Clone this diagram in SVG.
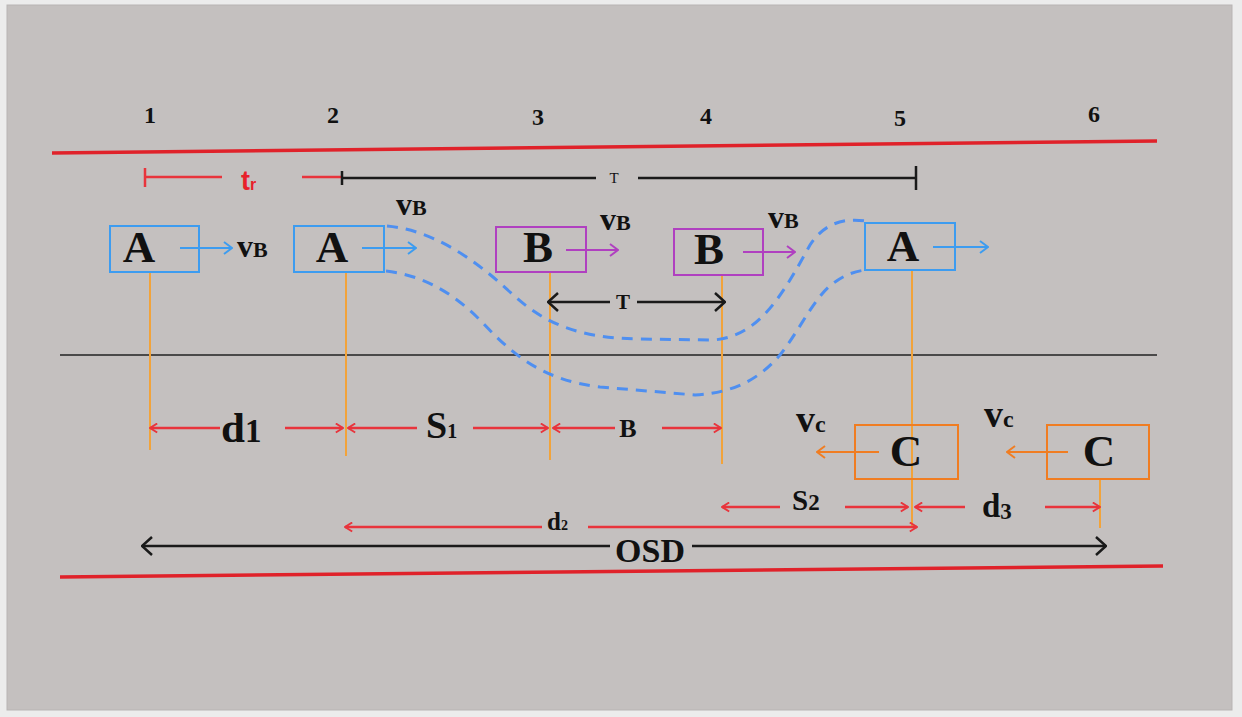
<svg xmlns="http://www.w3.org/2000/svg" width="1242" height="717" viewBox="0 0 1242 717">
  <style>
    .num { font-family: "Liberation Serif", serif; font-weight: bold; font-size: 24px; fill: #111; text-anchor: middle; }
    .veh { font-family: "Liberation Serif", serif; font-weight: bold; font-size: 45px; fill: #111; text-anchor: middle; }
    .lbl { font-family: "Liberation Serif", serif; font-weight: bold; fill: #111; }
    .boxA { fill: none; stroke: #3d9cf0; stroke-width: 2; }
    .boxB { fill: none; stroke: #b040c0; stroke-width: 2; }
    .boxC { fill: none; stroke: #f07d22; stroke-width: 2; }
    .arrA { stroke: #3d9cf0; stroke-width: 2; fill: none; marker-end: url(#hBlue); }
    .arrB { stroke: #b040c0; stroke-width: 2; fill: none; marker-end: url(#hPurple); }
    .arrC { stroke: #f07d22; stroke-width: 2; fill: none; marker-end: url(#hOrange); }
    .road { stroke: #e0222a; stroke-width: 3.5; fill: none; }
    .mid { stroke: #222; stroke-width: 1.5; }
    .guide { stroke: #f2a33a; stroke-width: 2; }
    .dim { stroke: #e8343c; stroke-width: 2.5; fill: none; }
    .blk { stroke: #1a1a1a; stroke-width: 2.5; fill: none; }
    .path { stroke: #4f8ff0; stroke-width: 3; fill: none; stroke-dasharray: 11 8; }
  </style>
  <defs>
    <marker id="hBlue" viewBox="0 0 10 14" refX="9" refY="7" markerWidth="10" markerHeight="14" markerUnits="userSpaceOnUse" orient="auto">
      <path d="M1,1 L9,7 L1,13" fill="none" stroke="#3d9cf0" stroke-width="2"/>
    </marker>
    <marker id="hPurple" viewBox="0 0 10 14" refX="9" refY="7" markerWidth="10" markerHeight="14" markerUnits="userSpaceOnUse" orient="auto">
      <path d="M1,1 L9,7 L1,13" fill="none" stroke="#b040c0" stroke-width="2"/>
    </marker>
    <marker id="hOrange" viewBox="0 0 10 14" refX="9" refY="7" markerWidth="10" markerHeight="14" markerUnits="userSpaceOnUse" orient="auto">
      <path d="M1,1 L9,7 L1,13" fill="none" stroke="#f07d22" stroke-width="2"/>
    </marker>
    <marker id="hRed" viewBox="0 0 10 12" refX="9" refY="6" markerWidth="9" markerHeight="11" markerUnits="userSpaceOnUse" orient="auto-start-reverse">
      <path d="M1,1 L9,6 L1,11" fill="none" stroke="#e8343c" stroke-width="2.2"/>
    </marker>
    <marker id="hBlack" viewBox="0 0 12 20" refX="11" refY="10" markerWidth="12" markerHeight="20" markerUnits="userSpaceOnUse" orient="auto-start-reverse">
      <path d="M1,1 L11,10 L1,19" fill="none" stroke="#1a1a1a" stroke-width="2.5"/>
    </marker>
  </defs>

  <!-- page and road surface -->
  <rect x="0" y="0" width="1242" height="717" fill="#ececec"/>
  <rect x="7" y="5" width="1225" height="705" fill="#c4c0bf" stroke="#b8b4b3" stroke-width="1"/>

  <!-- station numbers -->
  <g id="stations">
    <text class="num" x="150" y="123">1</text>
    <text class="num" x="333" y="123">2</text>
    <text class="num" x="538" y="125">3</text>
    <text class="num" x="706" y="124">4</text>
    <text class="num" x="900" y="126">5</text>
    <text class="num" x="1094" y="122">6</text>
  </g>

  <!-- road edges and centre line -->
  <g id="road">
    <line class="road" x1="52" y1="153" x2="1157" y2="141"/>
    <line class="road" x1="60" y1="577" x2="1163" y2="566"/>
    <line class="mid" x1="60" y1="355" x2="1157" y2="355"/>
  </g>

  <!-- vertical position guides -->
  <g id="guides">
    <line class="guide" x1="150" y1="273" x2="150" y2="450"/>
    <line class="guide" x1="346" y1="273" x2="346" y2="456"/>
    <line class="guide" x1="550" y1="272" x2="550" y2="460"/>
    <line class="guide" x1="722" y1="275" x2="722" y2="464"/>
    <line class="guide" x1="912" y1="270" x2="912" y2="528"/>
    <line class="guide" x1="1100" y1="480" x2="1100" y2="528"/>
  </g>

  <!-- overtaking paths -->
  <g id="connectors">
    <path class="path" d="M387,226 C430,230 470,255 510,292 C545,325 580,338 640,339 L712,340 C760,338 785,290 810,245 C825,222 845,218 866,221"/>
    <path class="path" d="M386,271 C420,275 450,290 480,320 C510,352 540,380 600,387 L695,395 C735,393 760,378 780,355 C800,330 815,295 835,282 C845,275 855,271 866,270"/>

    <!-- time spans -->
    <line class="dim" x1="145" y1="177" x2="222" y2="177"/>
    <line class="dim" x1="145" y1="168" x2="145" y2="187"/>
    <line class="dim" x1="302" y1="177" x2="342" y2="177"/>
    <line class="blk" x1="342" y1="178" x2="596" y2="178"/>
    <line class="blk" x1="638" y1="178" x2="916" y2="178"/>
    <line class="blk" x1="342" y1="171" x2="342" y2="185"/>
    <line class="blk" x1="916" y1="166" x2="916" y2="190"/>
    <line class="blk" x1="548" y1="302" x2="610" y2="302" marker-start="url(#hBlack)"/>
    <line class="blk" x1="637" y1="302" x2="725" y2="302" marker-end="url(#hBlack)"/>

    <!-- distance row 1 -->
    <line class="dim" x1="150" y1="428" x2="220" y2="428" marker-start="url(#hRed)"/>
    <line class="dim" x1="285" y1="428" x2="343" y2="428" marker-end="url(#hRed)"/>
    <line class="dim" x1="348" y1="428" x2="417" y2="428" marker-start="url(#hRed)"/>
    <line class="dim" x1="473" y1="428" x2="548" y2="428" marker-end="url(#hRed)"/>
    <line class="dim" x1="553" y1="428" x2="615" y2="428" marker-start="url(#hRed)"/>
    <line class="dim" x1="662" y1="428" x2="721" y2="428" marker-end="url(#hRed)"/>

    <!-- distance row 2 -->
    <line class="dim" x1="722" y1="507" x2="780" y2="507" marker-start="url(#hRed)" stroke-width="2"/>
    <line class="dim" x1="845" y1="507" x2="908" y2="507" marker-end="url(#hRed)" stroke-width="2"/>
    <line class="dim" x1="915" y1="507" x2="965" y2="507" marker-start="url(#hRed)" stroke-width="2"/>
    <line class="dim" x1="1045" y1="507" x2="1100" y2="507" marker-end="url(#hRed)" stroke-width="2"/>
    <line class="dim" x1="345" y1="527" x2="542" y2="527" marker-start="url(#hRed)" stroke-width="3"/>
    <line class="dim" x1="588" y1="527" x2="917" y2="527" marker-end="url(#hRed)" stroke-width="3"/>

    <!-- overall sight distance -->
    <line class="blk" x1="142" y1="546" x2="610" y2="546" marker-start="url(#hBlack)"/>
    <line class="blk" x1="692" y1="546" x2="1106" y2="546" marker-end="url(#hBlack)"/>
  </g>

  <!-- span labels -->
  <g id="labels">
    <text x="241" y="190" font-family="'Liberation Sans', sans-serif" font-weight="bold" font-size="27" fill="#e8202a">t<tspan font-size="16" dy="0">r</tspan></text>
    <text x="614" y="183" font-family="'Liberation Serif', serif" font-size="15" fill="#111" text-anchor="middle">T</text>
    <text x="623" y="309" class="lbl" font-size="21" text-anchor="middle">T</text>
    <text x="221" y="442" class="lbl" font-size="43">d<tspan font-size="33">1</tspan></text>
    <text x="426" y="438" class="lbl" font-size="38">S<tspan font-size="20">1</tspan></text>
    <text x="628" y="437" class="lbl" font-size="26" text-anchor="middle">B</text>
    <text x="792" y="510" class="lbl" font-size="29">S<tspan font-size="23">2</tspan></text>
    <text x="982" y="517" class="lbl" font-size="33">d<tspan font-size="23" dy="2">3</tspan></text>
    <text x="547" y="530" class="lbl" font-size="25">d<tspan font-size="14">2</tspan></text>
    <text x="650" y="562" class="lbl" font-size="34" text-anchor="middle">OSD</text>
  </g>

  <!-- vehicle A, position 1 -->
  <g id="vehA1">
    <rect class="boxA" x="110" y="226" width="89" height="46"/>
    <text class="veh" x="139" y="262">A</text>
    <line class="arrA" x1="180" y1="248" x2="232" y2="248"/>
    <text class="lbl" x="237" y="257" font-size="32">v<tspan font-size="22">B</tspan></text>
  </g>

  <!-- vehicle A, position 2 -->
  <g id="vehA2">
    <rect class="boxA" x="294" y="226" width="90" height="46"/>
    <text class="veh" x="332" y="262">A</text>
    <line class="arrA" x1="362" y1="248" x2="416" y2="248"/>
    <text class="lbl" x="396" y="215" font-size="32">v<tspan font-size="22">B</tspan></text>
  </g>

  <!-- vehicle B, position 3 -->
  <g id="vehB1">
    <rect class="boxB" x="496" y="227" width="90" height="45"/>
    <text class="veh" x="538" y="262">B</text>
    <line class="arrB" x1="566" y1="250" x2="618" y2="250"/>
    <text class="lbl" x="600" y="230" font-size="32">v<tspan font-size="22">B</tspan></text>
  </g>

  <!-- vehicle B, position 4 -->
  <g id="vehB2">
    <rect class="boxB" x="674" y="229" width="89" height="46"/>
    <text class="veh" x="709" y="264">B</text>
    <line class="arrB" x1="743" y1="252" x2="795" y2="252"/>
    <text class="lbl" x="768" y="228" font-size="32">v<tspan font-size="22">B</tspan></text>
  </g>

  <!-- vehicle A, position 5 -->
  <g id="vehA3">
    <rect class="boxA" x="865" y="223" width="90" height="47"/>
    <text class="veh" x="903" y="261">A</text>
    <line class="arrA" x1="933" y1="247" x2="988" y2="247"/>
  </g>

  <!-- oncoming vehicle C, position 5 -->
  <g id="vehC1">
    <rect class="boxC" x="855" y="425" width="103" height="54"/>
    <text class="veh" x="906" y="466">C</text>
    <line class="arrC" x1="879" y1="452" x2="817" y2="452"/>
    <text class="lbl" x="796" y="432" font-size="38">v<tspan font-size="24">c</tspan></text>
  </g>

  <!-- oncoming vehicle C, position 6 -->
  <g id="vehC2">
    <rect class="boxC" x="1047" y="425" width="102" height="54"/>
    <text class="veh" x="1099" y="466">C</text>
    <line class="arrC" x1="1068" y1="452" x2="1007" y2="452"/>
    <text class="lbl" x="984" y="427" font-size="38">v<tspan font-size="24">c</tspan></text>
  </g>
</svg>
